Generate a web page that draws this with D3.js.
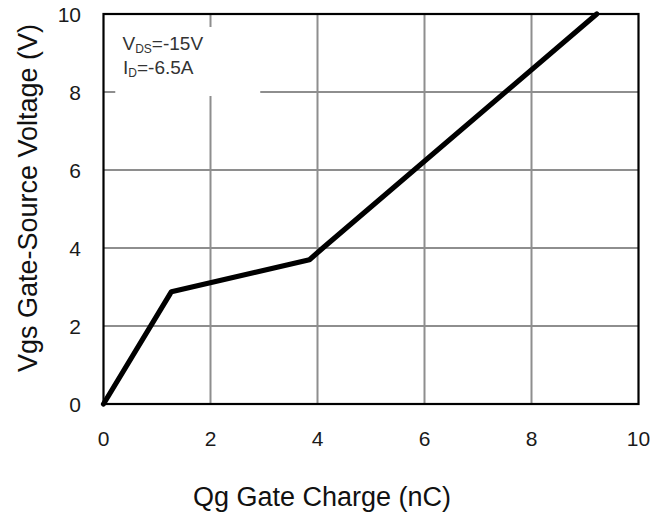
<!DOCTYPE html>
<html>
<head>
<meta charset="utf-8">
<script src="https://cdn.jsdelivr.net/npm/d3@7"></script>
<style>
  html, body { margin: 0; padding: 0; background: #fff; }
  svg { display: block; }
</style>
</head>
<body>
<svg id="chart" width="667" height="514"></svg>
<script>
// ---- data ----
const qg = [0, 1.27, 3.85, 4.1, 9.22];          // gate charge, nC
const vgs = [0, 2.88, 3.7, 4.0, 10];            // gate-source voltage, V
const xTicks = [0, 2, 4, 6, 8, 10];
const yTicks = [0, 2, 4, 6, 8, 10];
const xTitle = "Qg Gate Charge (nC)";
const yTitle = "Vgs Gate-Source Voltage (V)";

const svg = d3.select("#chart");
const font = "'Liberation Sans', Arial, Helvetica, sans-serif";

const x = d3.scaleLinear().domain([0, 10]).range([103.5, 638.5]);
const y = d3.scaleLinear().domain([0, 10]).range([404, 14]);

// grid
const grid = svg.append("g").attr("stroke", "#8e8e8e").attr("stroke-width", 2);
grid.selectAll("line.v").data(xTicks.slice(1, -1)).join("line")
  .attr("x1", d => x(d)).attr("x2", d => x(d))
  .attr("y1", y(0)).attr("y2", y(10));
grid.selectAll("line.h").data(yTicks.slice(1, -1)).join("line")
  .attr("x1", x(0)).attr("x2", x(10))
  .attr("y1", d => y(d)).attr("y2", d => y(d));

// annotation background box (hides grid behind the condition text)
svg.append("rect")
  .attr("x", x(0.22)).attr("y", 27)
  .attr("width", x(2.93) - x(0.22)).attr("height", 69)
  .attr("fill", "#fff");

// frame
svg.append("rect")
  .attr("x", x(0)).attr("y", y(10))
  .attr("width", x(10) - x(0)).attr("height", y(0) - y(10))
  .attr("fill", "none").attr("stroke", "#000").attr("stroke-width", 2.2);

// curve
const pts = qg.map((d, i) => [d, vgs[i]]);
svg.append("path")
  .datum(pts)
  .attr("d", d3.line().x(d => x(d[0])).y(d => y(d[1])))
  .attr("fill", "none").attr("stroke", "#000")
  .attr("stroke-width", 5.2).attr("stroke-linejoin", "round").attr("stroke-linecap", "round");

// tick labels
svg.append("g").selectAll("text").data(xTicks).join("text")
  .attr("x", d => x(d)).attr("y", 445.5)
  .attr("text-anchor", "middle")
  .attr("font-family", font).attr("font-size", 21).attr("fill", "#1a1a1a")
  .text(d => d);
svg.append("g").selectAll("text").data(yTicks).join("text")
  .attr("x", 81).attr("y", d => y(d) + 7.5)
  .attr("text-anchor", "end")
  .attr("font-family", font).attr("font-size", 21).attr("fill", "#1a1a1a")
  .text(d => d);

// axis titles
svg.append("text")
  .attr("x", 322).attr("y", 506)
  .attr("text-anchor", "middle")
  .attr("font-family", font).attr("font-size", 27).attr("fill", "#111")
  .text(xTitle);
svg.append("text")
  .attr("transform", "translate(37,198) rotate(-90)")
  .attr("text-anchor", "middle")
  .attr("font-family", font).attr("font-size", 27).attr("fill", "#111")
  .text(yTitle);

// annotation
const ann = svg.append("g").attr("font-family", font).attr("fill", "#333");
const t1 = ann.append("text").attr("x", 122.5).attr("y", 50).attr("font-size", 19);
t1.append("tspan").text("V");
t1.append("tspan").attr("font-size", 12).attr("dy", 3).text("DS");
t1.append("tspan").attr("dy", -3).text("=-15V");
const t2 = ann.append("text").attr("x", 123).attr("y", 74).attr("font-size", 19);
t2.append("tspan").text("I");
t2.append("tspan").attr("font-size", 12).attr("dy", 3).text("D");
t2.append("tspan").attr("dy", -3).text("=-6.5A");
</script>
</body>
</html>
